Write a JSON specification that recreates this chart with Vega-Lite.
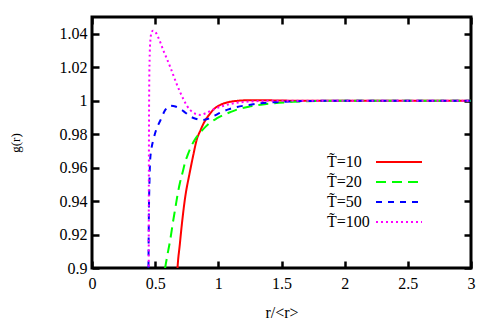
{
  "$schema": "https://vega.github.io/schema/vega-lite/v6.json",
  "width": 379,
  "height": 251,
  "autosize": {"type": "none"},
  "padding": {"left": 92, "top": 17, "right": 27, "bottom": 54},
  "background": "white",
  "config": {
    "view": {"stroke": "black", "strokeWidth": 3},
    "font": "Liberation Serif",
    "axis": {
      "domain": false,
      "grid": false,
      "ticks": true,
      "tickSize": -7,
      "tickWidth": 2.5,
      "tickColor": "black",
      "labelFont": "Liberation Serif",
      "labelFontSize": 16,
      "labelColor": "black",
      "labelFlush": false,
      "labelOverlap": false,
      "titleFont": "Liberation Serif",
      "titleFontWeight": "normal",
      "titleColor": "black"
    },
    "legend": {
      "labelFont": "Liberation Serif"
    }
  },
  "data": {"values": [
    {"s": "T\u0303=10", "r": 0.655, "g": 0.86},
    {"s": "T\u0303=10", "r": 0.677, "g": 0.9},
    {"s": "T\u0303=10", "r": 0.695, "g": 0.914},
    {"s": "T\u0303=10", "r": 0.712, "g": 0.9266},
    {"s": "T\u0303=10", "r": 0.738, "g": 0.9425},
    {"s": "T\u0303=10", "r": 0.772, "g": 0.9564},
    {"s": "T\u0303=10", "r": 0.804, "g": 0.9683},
    {"s": "T\u0303=10", "r": 0.83, "g": 0.977},
    {"s": "T\u0303=10", "r": 0.857, "g": 0.982},
    {"s": "T\u0303=10", "r": 0.884, "g": 0.9865},
    {"s": "T\u0303=10", "r": 0.91, "g": 0.9898},
    {"s": "T\u0303=10", "r": 0.94, "g": 0.9928},
    {"s": "T\u0303=10", "r": 0.97, "g": 0.9953},
    {"s": "T\u0303=10", "r": 1.016, "g": 0.9975},
    {"s": "T\u0303=10", "r": 1.08, "g": 0.9991},
    {"s": "T\u0303=10", "r": 1.15, "g": 0.9999},
    {"s": "T\u0303=10", "r": 1.25, "g": 1.0003},
    {"s": "T\u0303=10", "r": 1.4, "g": 1.0002},
    {"s": "T\u0303=10", "r": 1.6, "g": 1.0},
    {"s": "T\u0303=10", "r": 2.0, "g": 1.0},
    {"s": "T\u0303=10", "r": 2.5, "g": 1.0},
    {"s": "T\u0303=10", "r": 3.0, "g": 1.0},

    {"s": "T\u0303=20", "r": 0.56, "g": 0.89},
    {"s": "T\u0303=20", "r": 0.579, "g": 0.9},
    {"s": "T\u0303=20", "r": 0.6, "g": 0.909},
    {"s": "T\u0303=20", "r": 0.619, "g": 0.9167},
    {"s": "T\u0303=20", "r": 0.64, "g": 0.927},
    {"s": "T\u0303=20", "r": 0.659, "g": 0.9355},
    {"s": "T\u0303=20", "r": 0.68, "g": 0.945},
    {"s": "T\u0303=20", "r": 0.698, "g": 0.9515},
    {"s": "T\u0303=20", "r": 0.72, "g": 0.958},
    {"s": "T\u0303=20", "r": 0.738, "g": 0.9635},
    {"s": "T\u0303=20", "r": 0.76, "g": 0.968},
    {"s": "T\u0303=20", "r": 0.778, "g": 0.9715},
    {"s": "T\u0303=20", "r": 0.817, "g": 0.977},
    {"s": "T\u0303=20", "r": 0.857, "g": 0.981},
    {"s": "T\u0303=20", "r": 0.9, "g": 0.9845},
    {"s": "T\u0303=20", "r": 0.937, "g": 0.987},
    {"s": "T\u0303=20", "r": 0.99, "g": 0.9895},
    {"s": "T\u0303=20", "r": 1.042, "g": 0.9915},
    {"s": "T\u0303=20", "r": 1.1, "g": 0.9933},
    {"s": "T\u0303=20", "r": 1.148, "g": 0.9947},
    {"s": "T\u0303=20", "r": 1.254, "g": 0.9966},
    {"s": "T\u0303=20", "r": 1.4, "g": 0.9982},
    {"s": "T\u0303=20", "r": 1.6, "g": 0.9993},
    {"s": "T\u0303=20", "r": 1.8, "g": 0.9998},
    {"s": "T\u0303=20", "r": 2.0, "g": 1.0},
    {"s": "T\u0303=20", "r": 2.5, "g": 1.0},
    {"s": "T\u0303=20", "r": 3.0, "g": 1.0},

    {"s": "T\u0303=50", "r": 0.444, "g": 0.85},
    {"s": "T\u0303=50", "r": 0.447, "g": 0.9},
    {"s": "T\u0303=50", "r": 0.45, "g": 0.93},
    {"s": "T\u0303=50", "r": 0.455, "g": 0.952},
    {"s": "T\u0303=50", "r": 0.46, "g": 0.964},
    {"s": "T\u0303=50", "r": 0.47, "g": 0.971},
    {"s": "T\u0303=50", "r": 0.487, "g": 0.977},
    {"s": "T\u0303=50", "r": 0.51, "g": 0.983},
    {"s": "T\u0303=50", "r": 0.54, "g": 0.988},
    {"s": "T\u0303=50", "r": 0.58, "g": 0.9945},
    {"s": "T\u0303=50", "r": 0.619, "g": 0.997},
    {"s": "T\u0303=50", "r": 0.66, "g": 0.9965},
    {"s": "T\u0303=50", "r": 0.7, "g": 0.995},
    {"s": "T\u0303=50", "r": 0.74, "g": 0.9928},
    {"s": "T\u0303=50", "r": 0.78, "g": 0.9905},
    {"s": "T\u0303=50", "r": 0.82, "g": 0.9892},
    {"s": "T\u0303=50", "r": 0.87, "g": 0.9884},
    {"s": "T\u0303=50", "r": 0.92, "g": 0.9892},
    {"s": "T\u0303=50", "r": 0.97, "g": 0.991},
    {"s": "T\u0303=50", "r": 1.016, "g": 0.9928},
    {"s": "T\u0303=50", "r": 1.08, "g": 0.9948},
    {"s": "T\u0303=50", "r": 1.148, "g": 0.9962},
    {"s": "T\u0303=50", "r": 1.254, "g": 0.9976},
    {"s": "T\u0303=50", "r": 1.4, "g": 0.9989},
    {"s": "T\u0303=50", "r": 1.6, "g": 0.9996},
    {"s": "T\u0303=50", "r": 1.8, "g": 0.9999},
    {"s": "T\u0303=50", "r": 2.0, "g": 1.0},
    {"s": "T\u0303=50", "r": 2.5, "g": 1.0},
    {"s": "T\u0303=50", "r": 3.0, "g": 1.0},

    {"s": "T\u0303=100", "r": 0.448, "g": 0.85},
    {"s": "T\u0303=100", "r": 0.45, "g": 0.95},
    {"s": "T\u0303=100", "r": 0.452, "g": 1.0},
    {"s": "T\u0303=100", "r": 0.456, "g": 1.025},
    {"s": "T\u0303=100", "r": 0.462, "g": 1.036},
    {"s": "T\u0303=100", "r": 0.472, "g": 1.041},
    {"s": "T\u0303=100", "r": 0.482, "g": 1.0418},
    {"s": "T\u0303=100", "r": 0.5, "g": 1.0412},
    {"s": "T\u0303=100", "r": 0.52, "g": 1.0385},
    {"s": "T\u0303=100", "r": 0.54, "g": 1.035},
    {"s": "T\u0303=100", "r": 0.565, "g": 1.03},
    {"s": "T\u0303=100", "r": 0.593, "g": 1.025},
    {"s": "T\u0303=100", "r": 0.62, "g": 1.02},
    {"s": "T\u0303=100", "r": 0.645, "g": 1.015},
    {"s": "T\u0303=100", "r": 0.67, "g": 1.01},
    {"s": "T\u0303=100", "r": 0.698, "g": 1.005},
    {"s": "T\u0303=100", "r": 0.725, "g": 1.0007},
    {"s": "T\u0303=100", "r": 0.751, "g": 0.997},
    {"s": "T\u0303=100", "r": 0.78, "g": 0.9942},
    {"s": "T\u0303=100", "r": 0.817, "g": 0.9922},
    {"s": "T\u0303=100", "r": 0.857, "g": 0.9915},
    {"s": "T\u0303=100", "r": 0.9, "g": 0.9925},
    {"s": "T\u0303=100", "r": 0.963, "g": 0.9948},
    {"s": "T\u0303=100", "r": 1.016, "g": 0.9963},
    {"s": "T\u0303=100", "r": 1.095, "g": 0.998},
    {"s": "T\u0303=100", "r": 1.17, "g": 0.999},
    {"s": "T\u0303=100", "r": 1.254, "g": 0.9995},
    {"s": "T\u0303=100", "r": 1.4, "g": 0.9999},
    {"s": "T\u0303=100", "r": 1.6, "g": 1.0},
    {"s": "T\u0303=100", "r": 2.0, "g": 1.0},
    {"s": "T\u0303=100", "r": 2.5, "g": 1.0},
    {"s": "T\u0303=100", "r": 3.0, "g": 1.0}
  ]},
  "layer": [
    {
      "mark": {"type": "line", "clip": true, "strokeWidth": 2, "interpolate": "monotone"},
      "encoding": {
        "x": {
          "field": "r", "type": "quantitative",
          "scale": {"domain": [0, 3], "nice": false, "zero": false},
          "axis": {
            "orient": "bottom",
            "values": [0, 0.5, 1, 1.5, 2, 2.5, 3],
            "format": ".1~f",
            "labelFont": "Liberation Serif",
            "labelPadding": 14,
            "title": "r/<r>",
            "titleFontSize": 16,
            "titlePadding": 13
          }
        },
        "y": {
          "field": "g", "type": "quantitative",
          "scale": {"domain": [0.9, 1.05], "nice": false, "zero": false},
          "axis": {
            "orient": "left",
            "values": [0.9, 0.92, 0.94, 0.96, 0.98, 1.0, 1.02, 1.04],
            "format": ".2~f",
            "labelFont": "Liberation Serif",
            "labelPadding": 12,
            "title": "g(r)",
            "titleFontSize": 13,
            "titlePadding": 37
          }
        },
        "color": {
          "field": "s", "type": "nominal",
          "scale": {
            "domain": ["T\u0303=10", "T\u0303=20", "T\u0303=50", "T\u0303=100"],
            "range": ["#ff0000", "#00ff00", "#0000ff", "#ff00ff"]
          },
          "legend": {
            "orient": "none", "legendX": 222, "legendY": 137,
            "title": null, "padding": 0,
            "symbolType": "M27,0L50,0", "symbolSize": 16, "symbolStrokeWidth": 2,
            "labelOffset": -3, "labelFontSize": 16,
            "labelColor": "black", "rowPadding": 4
          }
        },
        "strokeDash": {
          "field": "s", "type": "nominal",
          "scale": {
            "domain": ["T\u0303=10", "T\u0303=20", "T\u0303=50", "T\u0303=100"],
            "range": [[1, 0], [10, 6], [6, 6], [2, 3]]
          },
          "legend": {
            "orient": "none", "legendX": 222, "legendY": 137,
            "title": null, "padding": 0,
            "symbolType": "M27,0L50,0", "symbolSize": 16, "symbolStrokeWidth": 2,
            "labelOffset": -3, "labelFontSize": 16,
            "labelColor": "black", "rowPadding": 4
          }
        }
      }
    },
    {
      "mark": {"type": "line", "opacity": 0},
      "encoding": {
        "x": {
          "field": "r", "type": "quantitative",
          "axis": {"orient": "top", "values": [0, 0.5, 1, 1.5, 2, 2.5, 3], "labels": false, "title": null}
        },
        "y": {
          "field": "g", "type": "quantitative",
          "axis": {"orient": "right", "values": [0.9, 0.92, 0.94, 0.96, 0.98, 1.0, 1.02, 1.04], "labels": false, "title": null}
        },
        "detail": {"field": "s"}
      }
    }
  ],
  "resolve": {"axis": {"x": "independent", "y": "independent"}}
}
